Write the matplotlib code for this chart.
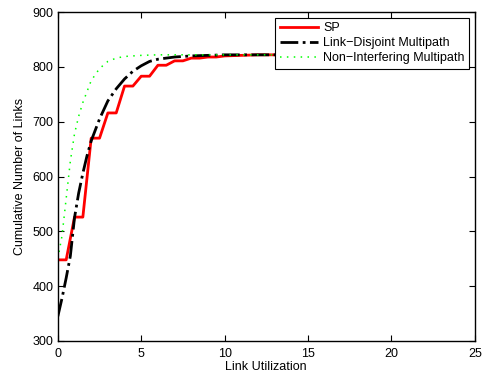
import matplotlib.pyplot as plt

plt.rcParams['font.family'] = ['Liberation Sans', 'DejaVu Sans']

# SP (step-like cdf sampled every 0.5)
sp_x = [0, 0.5, 1, 1.5, 2, 2.5, 3, 3.5, 4, 4.5, 5, 5.5, 6, 6.5, 7, 7.5, 8, 8.5,
        9, 9.5, 10, 11, 12, 13, 15]
sp_y = [448, 448, 526, 526, 670, 670, 716, 716, 765, 765, 783, 783, 803, 803,
        811, 811, 816, 816, 818, 818, 820, 821, 822, 822, 822]

# Link-Disjoint Multipath
ld_x = [0, 0.25, 0.5, 0.75, 1, 1.25, 1.5, 1.75, 2, 2.5, 3, 3.5, 4, 4.5, 5, 5.5,
        6, 7, 8, 9, 10, 12, 15]
ld_y = [345, 378, 415, 455, 525, 570, 606, 638, 665, 705, 738, 760, 778, 792,
        802, 810, 814, 818, 820, 821, 822, 822, 822]

# Non-Interfering Multipath
ni_x = [0, 0.25, 0.5, 0.75, 1, 1.25, 1.5, 2, 2.5, 3, 3.5, 4, 5, 6, 8, 10, 15]
ni_y = [450, 492, 560, 628, 678, 710, 735, 775, 797, 810, 816, 819, 821, 822,
        822, 822, 822]

fig = plt.figure(figsize=(4.82, 3.77), dpi=100)
ax = fig.add_axes([0.120, 0.0955, 0.865, 0.8725])

ax.plot(sp_x, sp_y, color='red', lw=2, label='SP')
ax.plot(ld_x, ld_y, color='black', lw=2, ls='-.', label='Link\u2212Disjoint Multipath')
ax.plot(ni_x, ni_y, color=(0, 1, 0), lw=1.1, ls=(0, (1, 3.5)), label='Non\u2212Interfering Multipath')

ax.set_xlim(0, 25)
ax.set_ylim(300, 900)
ax.set_xticks(range(0, 26, 5))
ax.set_yticks(range(300, 901, 100))
ax.tick_params(direction='in', top=True, right=True, labelsize=9, length=4)
ax.tick_params(axis='x', pad=5)
ax.tick_params(axis='y', pad=3)
for s in ax.spines.values():
    s.set_linewidth(1)

ax.set_xlabel('Link Utilization', fontsize=9, labelpad=1)
ax.set_ylabel('Cumulative Number of Links', fontsize=9, labelpad=5)

leg = ax.legend(loc='upper right', fontsize=9, fancybox=False, framealpha=1,
                edgecolor='black', borderaxespad=0.45, handlelength=3.1,
                labelspacing=0.25, borderpad=0.35, handletextpad=0.4)
leg.get_frame().set_linewidth(0.8)

fig.savefig('out.png')
